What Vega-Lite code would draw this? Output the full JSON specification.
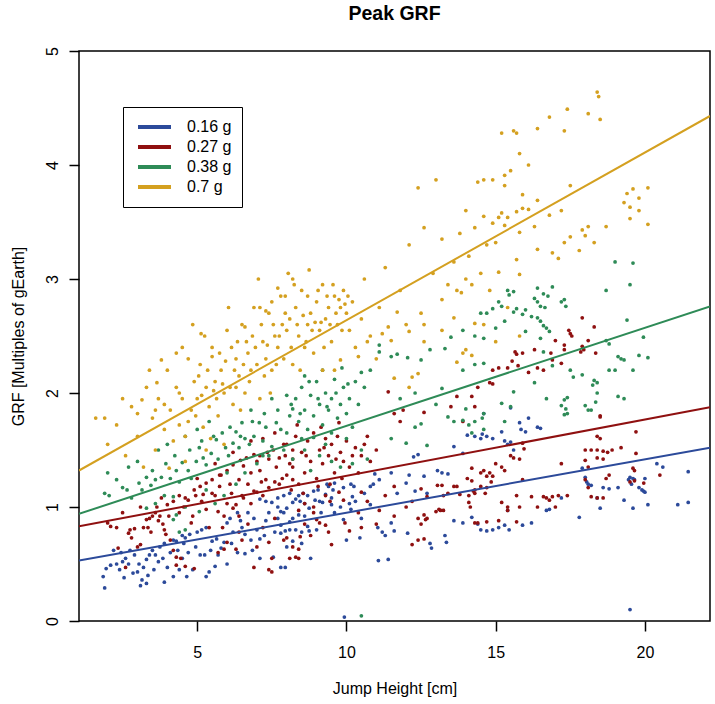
{
"$schema":"https://vega.github.io/schema/vega-lite/v6.json",
"width":631,"height":570,
"autosize":{"type":"none"},
"padding":{"left":79,"top":51,"right":5,"bottom":83},
"background":"white",
"title":{"text":"Peak GRF","fontSize":19.5,"fontWeight":"bold","font":"Liberation Sans","color":"black","offset":22},
"config":{"font":"Liberation Sans","view":{"stroke":"black","strokeWidth":1.5}},
"datasets":{
"lines":[
{"g":"0.16 g","x":1.04,"y":0.53},{"g":"0.16 g","x":22.18,"y":1.52},
{"g":"0.27 g","x":1.04,"y":0.83},{"g":"0.27 g","x":22.18,"y":1.875},
{"g":"0.38 g","x":1.04,"y":0.94},{"g":"0.38 g","x":22.18,"y":2.76},
{"g":"0.7 g","x":1.04,"y":1.32},{"g":"0.7 g","x":22.18,"y":4.43}],
"pts":[
{"g":"0.16 g","x":1.85,"y":0.39},{"g":"0.16 g","x":1.9,"y":0.29},{"g":"0.16 g","x":1.95,"y":0.46},{"g":"0.16 g","x":2.1,"y":0.49},{"g":"0.16 g","x":2.3,"y":0.5},{"g":"0.16 g","x":2.4,"y":0.45},{"g":"0.16 g","x":2.5,"y":0.52},{"g":"0.16 g","x":2.6,"y":0.55},{"g":"0.16 g","x":2.7,"y":0.5},{"g":"0.16 g","x":2.85,"y":0.42},{"g":"0.16 g","x":3.0,"y":0.43},{"g":"0.16 g","x":3.15,"y":0.36},{"g":"0.16 g","x":3.1,"y":0.31},{"g":"0.16 g","x":3.3,"y":0.33},{"g":"0.16 g","x":3.2,"y":0.47},{"g":"0.16 g","x":3.3,"y":0.54},{"g":"0.16 g","x":3.4,"y":0.58},{"g":"0.16 g","x":3.5,"y":0.62},{"g":"0.16 g","x":3.6,"y":0.58},{"g":"0.16 g","x":3.75,"y":0.65},{"g":"0.16 g","x":3.9,"y":0.68},{"g":"0.16 g","x":4.2,"y":0.71},{"g":"0.16 g","x":4.3,"y":0.7},{"g":"0.16 g","x":4.5,"y":0.75},{"g":"0.16 g","x":4.6,"y":0.73},{"g":"0.16 g","x":4.75,"y":0.76},{"g":"0.16 g","x":5.0,"y":0.78},{"g":"0.16 g","x":5.15,"y":0.8},{"g":"0.16 g","x":5.3,"y":0.82},{"g":"0.16 g","x":4.0,"y":0.47},{"g":"0.16 g","x":3.9,"y":0.34},{"g":"0.16 g","x":4.2,"y":0.39},{"g":"0.16 g","x":4.4,"y":0.45},{"g":"0.16 g","x":4.65,"y":0.39},{"g":"0.16 g","x":4.85,"y":0.45},{"g":"0.16 g","x":5.3,"y":0.39},{"g":"0.16 g","x":5.4,"y":0.43},{"g":"0.16 g","x":5.1,"y":0.58},{"g":"0.16 g","x":5.25,"y":0.58},{"g":"0.16 g","x":5.7,"y":0.58},{"g":"0.16 g","x":5.8,"y":0.64},{"g":"0.16 g","x":5.9,"y":0.69},{"g":"0.16 g","x":6.0,"y":0.86},{"g":"0.16 g","x":6.1,"y":0.9},{"g":"0.16 g","x":6.35,"y":0.95},{"g":"0.16 g","x":6.45,"y":0.88},{"g":"0.16 g","x":6.7,"y":0.95},{"g":"0.16 g","x":6.6,"y":0.76},{"g":"0.16 g","x":6.8,"y":0.71},{"g":"0.16 g","x":7.0,"y":0.8},{"g":"0.16 g","x":7.1,"y":0.72},{"g":"0.16 g","x":7.25,"y":0.75},{"g":"0.16 g","x":6.35,"y":0.6},{"g":"0.16 g","x":6.6,"y":0.59},{"g":"0.16 g","x":7.1,"y":0.55},{"g":"0.16 g","x":7.55,"y":0.56},{"g":"0.16 g","x":7.8,"y":0.47},{"g":"0.16 g","x":7.95,"y":0.47},{"g":"0.16 g","x":8.0,"y":0.65},{"g":"0.16 g","x":8.2,"y":0.7},{"g":"0.16 g","x":8.3,"y":0.8},{"g":"0.16 g","x":7.1,"y":1.07},{"g":"0.16 g","x":7.3,"y":1.05},{"g":"0.16 g","x":7.5,"y":1.04},{"g":"0.16 g","x":7.7,"y":1.08},{"g":"0.16 g","x":7.9,"y":1.1},{"g":"0.16 g","x":8.1,"y":1.12},{"g":"0.16 g","x":8.8,"y":0.55},{"g":"0.16 g","x":8.5,"y":0.68},{"g":"0.16 g","x":7.8,"y":0.77},{"g":"0.16 g","x":7.95,"y":0.79},{"g":"0.16 g","x":8.1,"y":0.8},{"g":"0.16 g","x":8.5,"y":0.78},{"g":"0.16 g","x":8.7,"y":0.83},{"g":"0.16 g","x":8.75,"y":0.79},{"g":"0.16 g","x":9.0,"y":0.8},{"g":"0.16 g","x":7.8,"y":0.84},{"g":"0.16 g","x":7.7,"y":0.9},{"g":"0.16 g","x":7.9,"y":0.95},{"g":"0.16 g","x":8.1,"y":0.87},{"g":"0.16 g","x":8.2,"y":0.9},{"g":"0.16 g","x":8.4,"y":0.93},{"g":"0.16 g","x":7.8,"y":0.96},{"g":"0.16 g","x":8.0,"y":0.99},{"g":"0.16 g","x":7.7,"y":1.0},{"g":"0.16 g","x":8.2,"y":1.04},{"g":"0.16 g","x":8.3,"y":1.07},{"g":"0.16 g","x":8.4,"y":1.1},{"g":"0.16 g","x":8.45,"y":1.05},{"g":"0.16 g","x":8.55,"y":1.12},{"g":"0.16 g","x":8.6,"y":1.03},{"g":"0.16 g","x":8.7,"y":1.1},{"g":"0.16 g","x":8.75,"y":0.99},{"g":"0.16 g","x":8.95,"y":1.06},{"g":"0.16 g","x":9.1,"y":1.05},{"g":"0.16 g","x":8.9,"y":1.14},{"g":"0.16 g","x":9.05,"y":1.15},{"g":"0.16 g","x":9.3,"y":1.11},{"g":"0.16 g","x":9.5,"y":1.08},{"g":"0.16 g","x":9.2,"y":1.04},{"g":"0.16 g","x":9.35,"y":1.2},{"g":"0.16 g","x":9.55,"y":1.15},{"g":"0.16 g","x":9.4,"y":1.18},{"g":"0.16 g","x":9.9,"y":1.17},{"g":"0.16 g","x":9.6,"y":1.21},{"g":"0.16 g","x":10.15,"y":1.2},{"g":"0.16 g","x":10.25,"y":1.18},{"g":"0.16 g","x":10.8,"y":1.18},{"g":"0.16 g","x":10.9,"y":1.2},{"g":"0.16 g","x":10.95,"y":1.29},{"g":"0.16 g","x":10.2,"y":1.09},{"g":"0.16 g","x":9.5,"y":1.02},{"g":"0.16 g","x":10.1,"y":1.03},{"g":"0.16 g","x":10.15,"y":0.98},{"g":"0.16 g","x":9.8,"y":1.0},{"g":"0.16 g","x":10.5,"y":0.9},{"g":"0.16 g","x":9.9,"y":0.89},{"g":"0.16 g","x":10.0,"y":0.71},{"g":"0.16 g","x":10.45,"y":0.73},{"g":"0.16 g","x":10.8,"y":1.02},{"g":"0.16 g","x":11.07,"y":0.53},{"g":"0.16 g","x":11.4,"y":0.54},{"g":"0.16 g","x":11.3,"y":0.75},{"g":"0.16 g","x":11.6,"y":0.79},{"g":"0.16 g","x":11.5,"y":0.86},{"g":"0.16 g","x":12.05,"y":0.77},{"g":"0.16 g","x":12.0,"y":1.21},{"g":"0.16 g","x":12.1,"y":1.28},{"g":"0.16 g","x":12.6,"y":1.27},{"g":"0.16 g","x":12.8,"y":0.68},{"g":"0.16 g","x":12.85,"y":0.64},{"g":"0.16 g","x":13.3,"y":0.75},{"g":"0.16 g","x":13.35,"y":0.69},{"g":"0.16 g","x":13.6,"y":0.88},{"g":"0.16 g","x":14.2,"y":0.91},{"g":"0.16 g","x":14.4,"y":0.85},{"g":"0.16 g","x":14.7,"y":0.79},{"g":"0.16 g","x":14.9,"y":0.8},{"g":"0.16 g","x":15.1,"y":0.82},{"g":"0.16 g","x":9.93,"y":0.035},{"g":"0.16 g","x":11.1,"y":1.24},{"g":"0.16 g","x":11.5,"y":1.3},{"g":"0.16 g","x":12.25,"y":1.44},{"g":"0.16 g","x":12.4,"y":1.46},{"g":"0.16 g","x":13.05,"y":1.32},{"g":"0.16 g","x":13.2,"y":1.3},{"g":"0.16 g","x":13.4,"y":1.29},{"g":"0.16 g","x":13.6,"y":1.53},{"g":"0.16 g","x":13.9,"y":1.47},{"g":"0.16 g","x":14.05,"y":1.63},{"g":"0.16 g","x":14.3,"y":1.62},{"g":"0.16 g","x":14.5,"y":1.6},{"g":"0.16 g","x":14.9,"y":1.6},{"g":"0.16 g","x":15.2,"y":1.66},{"g":"0.16 g","x":15.3,"y":1.58},{"g":"0.16 g","x":12.7,"y":1.12},{"g":"0.16 g","x":12.3,"y":1.14},{"g":"0.16 g","x":11.7,"y":1.12},{"g":"0.16 g","x":11.05,"y":0.82},{"g":"0.16 g","x":11.2,"y":0.78},{"g":"0.16 g","x":13.9,"y":0.86},{"g":"0.16 g","x":14.5,"y":0.8},{"g":"0.16 g","x":15.4,"y":0.97},{"g":"0.16 g","x":15.3,"y":0.84},{"g":"0.16 g","x":15.45,"y":0.8},{"g":"0.16 g","x":15.9,"y":0.84},{"g":"0.16 g","x":16.2,"y":0.86},{"g":"0.16 g","x":15.5,"y":1.57},{"g":"0.16 g","x":15.4,"y":1.55},{"g":"0.16 g","x":15.8,"y":1.74},{"g":"0.16 g","x":15.85,"y":1.68},{"g":"0.16 g","x":16.1,"y":1.78},{"g":"0.16 g","x":16.4,"y":1.7},{"g":"0.16 g","x":16.5,"y":1.69},{"g":"0.16 g","x":15.5,"y":1.87},{"g":"0.16 g","x":14.6,"y":1.82},{"g":"0.16 g","x":14.55,"y":1.64},{"g":"0.16 g","x":14.7,"y":1.62},{"g":"0.16 g","x":16.0,"y":1.66},{"g":"0.16 g","x":15.6,"y":1.5},{"g":"0.16 g","x":16.7,"y":0.97},{"g":"0.16 g","x":16.8,"y":0.98},{"g":"0.16 g","x":17.2,"y":1.08},{"g":"0.16 g","x":17.8,"y":0.91},{"g":"0.16 g","x":18.0,"y":1.26},{"g":"0.16 g","x":18.05,"y":1.22},{"g":"0.16 g","x":18.1,"y":1.2},{"g":"0.16 g","x":18.2,"y":1.19},{"g":"0.16 g","x":18.4,"y":1.08},{"g":"0.16 g","x":18.5,"y":0.99},{"g":"0.16 g","x":18.6,"y":1.17},{"g":"0.16 g","x":18.8,"y":1.16},{"g":"0.16 g","x":19.1,"y":1.17},{"g":"0.16 g","x":19.3,"y":1.06},{"g":"0.16 g","x":19.6,"y":0.99},{"g":"0.16 g","x":19.5,"y":1.26},{"g":"0.16 g","x":19.45,"y":1.24},{"g":"0.16 g","x":19.6,"y":1.25},{"g":"0.16 g","x":19.65,"y":1.24},{"g":"0.16 g","x":19.55,"y":1.2},{"g":"0.16 g","x":19.8,"y":1.17},{"g":"0.16 g","x":19.9,"y":1.15},{"g":"0.16 g","x":19.95,"y":1.14},{"g":"0.16 g","x":20.0,"y":1.13},{"g":"0.16 g","x":20.1,"y":1.02},{"g":"0.16 g","x":20.0,"y":1.25},{"g":"0.16 g","x":20.4,"y":1.38},{"g":"0.16 g","x":20.6,"y":1.35},{"g":"0.16 g","x":21.1,"y":1.02},{"g":"0.16 g","x":21.45,"y":1.04},{"g":"0.16 g","x":21.45,"y":1.31},{"g":"0.16 g","x":19.5,"y":0.1},{"g":"0.16 g","x":17.9,"y":1.34},{"g":"0.16 g","x":2.2,"y":0.62},{"g":"0.16 g","x":2.9,"y":0.58},{"g":"0.16 g","x":3.55,"y":0.45},{"g":"0.16 g","x":4.1,"y":0.6},{"g":"0.16 g","x":4.7,"y":0.6},{"g":"0.16 g","x":5.5,"y":0.7},{"g":"0.16 g","x":6.2,"y":0.78},{"g":"0.16 g","x":6.9,"y":0.9},{"g":"0.16 g","x":7.4,"y":0.95},{"g":"0.16 g","x":6.0,"y":0.5},{"g":"0.16 g","x":5.6,"y":0.48},{"g":"0.16 g","x":4.5,"y":0.55},{"g":"0.16 g","x":3.7,"y":0.52},{"g":"0.16 g","x":2.55,"y":0.38},{"g":"0.16 g","x":2.45,"y":0.6},{"g":"0.16 g","x":2.75,"y":0.62},{"g":"0.16 g","x":3.05,"y":0.5},{"g":"0.16 g","x":3.35,"y":0.4},{"g":"0.16 g","x":3.85,"y":0.55},{"g":"0.16 g","x":4.35,"y":0.62},{"g":"0.16 g","x":4.55,"y":0.68},{"g":"0.16 g","x":4.95,"y":0.65},{"g":"0.16 g","x":5.45,"y":0.62},{"g":"0.16 g","x":5.65,"y":0.72},{"g":"0.16 g","x":6.15,"y":0.68},{"g":"0.16 g","x":6.5,"y":0.82},{"g":"0.16 g","x":6.85,"y":0.62},{"g":"0.16 g","x":7.3,"y":0.88},{"g":"0.16 g","x":7.6,"y":0.78},{"g":"0.16 g","x":8.6,"y":0.92},{"g":"0.16 g","x":9.15,"y":0.95},{"g":"0.16 g","x":9.6,"y":0.95},{"g":"0.16 g","x":10.3,"y":1.05},{"g":"0.16 g","x":10.6,"y":1.12},
{"g":"0.27 g","x":2.0,"y":0.86},{"g":"0.27 g","x":2.1,"y":0.83},{"g":"0.27 g","x":2.3,"y":0.82},{"g":"0.27 g","x":2.35,"y":0.64},{"g":"0.27 g","x":2.6,"y":0.47},{"g":"0.27 g","x":2.7,"y":0.77},{"g":"0.27 g","x":2.8,"y":0.73},{"g":"0.27 g","x":2.75,"y":0.8},{"g":"0.27 g","x":2.9,"y":0.81},{"g":"0.27 g","x":3.0,"y":0.65},{"g":"0.27 g","x":3.1,"y":0.67},{"g":"0.27 g","x":3.2,"y":0.82},{"g":"0.27 g","x":3.3,"y":0.89},{"g":"0.27 g","x":3.35,"y":0.82},{"g":"0.27 g","x":3.4,"y":0.9},{"g":"0.27 g","x":3.5,"y":0.92},{"g":"0.27 g","x":3.6,"y":0.95},{"g":"0.27 g","x":3.65,"y":1.0},{"g":"0.27 g","x":3.75,"y":0.92},{"g":"0.27 g","x":3.85,"y":0.85},{"g":"0.27 g","x":3.9,"y":0.8},{"g":"0.27 g","x":3.95,"y":0.76},{"g":"0.27 g","x":4.1,"y":0.71},{"g":"0.27 g","x":4.2,"y":0.62},{"g":"0.27 g","x":4.3,"y":0.56},{"g":"0.27 g","x":4.45,"y":0.55},{"g":"0.27 g","x":4.3,"y":0.49},{"g":"0.27 g","x":4.6,"y":0.48},{"g":"0.27 g","x":4.9,"y":0.46},{"g":"0.27 g","x":4.0,"y":1.02},{"g":"0.27 g","x":4.2,"y":1.05},{"g":"0.27 g","x":4.4,"y":1.1},{"g":"0.27 g","x":4.6,"y":1.08},{"g":"0.27 g","x":4.9,"y":1.15},{"g":"0.27 g","x":5.1,"y":1.18},{"g":"0.27 g","x":5.3,"y":1.21},{"g":"0.27 g","x":5.2,"y":1.11},{"g":"0.27 g","x":5.5,"y":1.24},{"g":"0.27 g","x":5.8,"y":1.28},{"g":"0.27 g","x":6.0,"y":1.32},{"g":"0.27 g","x":6.2,"y":1.37},{"g":"0.27 g","x":6.45,"y":1.41},{"g":"0.27 g","x":6.65,"y":1.43},{"g":"0.27 g","x":6.9,"y":1.46},{"g":"0.27 g","x":7.1,"y":1.45},{"g":"0.27 g","x":7.35,"y":1.48},{"g":"0.27 g","x":7.55,"y":1.5},{"g":"0.27 g","x":7.75,"y":1.43},{"g":"0.27 g","x":7.95,"y":1.45},{"g":"0.27 g","x":8.2,"y":1.42},{"g":"0.27 g","x":5.7,"y":0.6},{"g":"0.27 g","x":5.9,"y":0.63},{"g":"0.27 g","x":6.0,"y":0.69},{"g":"0.27 g","x":6.3,"y":0.63},{"g":"0.27 g","x":6.5,"y":0.71},{"g":"0.27 g","x":6.9,"y":0.47},{"g":"0.27 g","x":7.4,"y":0.45},{"g":"0.27 g","x":7.5,"y":0.55},{"g":"0.27 g","x":7.9,"y":0.71},{"g":"0.27 g","x":8.2,"y":0.65},{"g":"0.27 g","x":8.3,"y":0.56},{"g":"0.27 g","x":7.0,"y":0.65},{"g":"0.27 g","x":7.4,"y":0.69},{"g":"0.27 g","x":5.7,"y":0.96},{"g":"0.27 g","x":5.9,"y":0.92},{"g":"0.27 g","x":6.2,"y":0.99},{"g":"0.27 g","x":6.4,"y":0.92},{"g":"0.27 g","x":6.55,"y":1.08},{"g":"0.27 g","x":6.8,"y":1.03},{"g":"0.27 g","x":7.0,"y":1.13},{"g":"0.27 g","x":7.2,"y":1.1},{"g":"0.27 g","x":7.4,"y":1.17},{"g":"0.27 g","x":7.6,"y":1.22},{"g":"0.27 g","x":7.85,"y":1.25},{"g":"0.27 g","x":8.0,"y":1.28},{"g":"0.27 g","x":5.3,"y":0.98},{"g":"0.27 g","x":4.85,"y":0.92},{"g":"0.27 g","x":4.8,"y":0.86},{"g":"0.27 g","x":8.0,"y":1.55},{"g":"0.27 g","x":8.2,"y":1.35},{"g":"0.27 g","x":8.3,"y":1.62},{"g":"0.27 g","x":8.4,"y":1.2},{"g":"0.27 g","x":8.5,"y":1.48},{"g":"0.27 g","x":8.6,"y":1.3},{"g":"0.27 g","x":8.7,"y":1.58},{"g":"0.27 g","x":8.8,"y":1.4},{"g":"0.27 g","x":8.9,"y":1.65},{"g":"0.27 g","x":9.0,"y":1.25},{"g":"0.27 g","x":9.1,"y":1.5},{"g":"0.27 g","x":9.2,"y":1.38},{"g":"0.27 g","x":9.3,"y":1.6},{"g":"0.27 g","x":9.4,"y":1.45},{"g":"0.27 g","x":9.5,"y":1.55},{"g":"0.27 g","x":9.6,"y":1.3},{"g":"0.27 g","x":9.7,"y":1.62},{"g":"0.27 g","x":9.8,"y":1.48},{"g":"0.27 g","x":9.9,"y":1.4},{"g":"0.27 g","x":10.0,"y":1.58},{"g":"0.27 g","x":10.1,"y":1.35},{"g":"0.27 g","x":10.3,"y":1.52},{"g":"0.27 g","x":10.5,"y":1.45},{"g":"0.27 g","x":10.7,"y":1.62},{"g":"0.27 g","x":8.15,"y":1.15},{"g":"0.27 g","x":8.55,"y":1.12},{"g":"0.27 g","x":9.05,"y":1.18},{"g":"0.27 g","x":9.45,"y":1.2},{"g":"0.27 g","x":9.85,"y":1.25},{"g":"0.27 g","x":10.4,"y":1.3},{"g":"0.27 g","x":10.8,"y":1.4},{"g":"0.27 g","x":11.0,"y":1.5},{"g":"0.27 g","x":8.35,"y":1.72},{"g":"0.27 g","x":9.15,"y":1.7},{"g":"0.27 g","x":9.75,"y":1.74},{"g":"0.27 g","x":11.4,"y":2.01},{"g":"0.27 g","x":11.9,"y":1.85},{"g":"0.27 g","x":11.6,"y":1.82},{"g":"0.27 g","x":11.8,"y":1.75},{"g":"0.27 g","x":12.6,"y":1.83},{"g":"0.27 g","x":13.5,"y":1.88},{"g":"0.27 g","x":13.7,"y":1.97},{"g":"0.27 g","x":14.2,"y":1.97},{"g":"0.27 g","x":15.1,"y":2.22},{"g":"0.27 g","x":14.8,"y":2.09},{"g":"0.27 g","x":14.4,"y":2.05},{"g":"0.27 g","x":14.3,"y":1.88},{"g":"0.27 g","x":13.9,"y":1.75},{"g":"0.27 g","x":14.2,"y":1.34},{"g":"0.27 g","x":14.5,"y":1.3},{"g":"0.27 g","x":14.6,"y":1.32},{"g":"0.27 g","x":14.8,"y":1.3},{"g":"0.27 g","x":15.0,"y":1.38},{"g":"0.27 g","x":14.85,"y":1.22},{"g":"0.27 g","x":14.5,"y":1.18},{"g":"0.27 g","x":14.3,"y":1.12},{"g":"0.27 g","x":14.1,"y":1.1},{"g":"0.27 g","x":13.8,"y":1.11},{"g":"0.27 g","x":13.7,"y":1.18},{"g":"0.27 g","x":13.05,"y":1.19},{"g":"0.27 g","x":13.15,"y":0.97},{"g":"0.27 g","x":13.0,"y":0.96},{"g":"0.27 g","x":12.7,"y":0.9},{"g":"0.27 g","x":12.4,"y":0.9},{"g":"0.27 g","x":12.5,"y":0.85},{"g":"0.27 g","x":12.0,"y":1.0},{"g":"0.27 g","x":12.2,"y":1.05},{"g":"0.27 g","x":11.6,"y":1.18},{"g":"0.27 g","x":11.3,"y":1.1},{"g":"0.27 g","x":11.1,"y":0.97},{"g":"0.27 g","x":10.7,"y":1.05},{"g":"0.27 g","x":10.5,"y":1.13},{"g":"0.27 g","x":10.4,"y":0.95},{"g":"0.27 g","x":9.9,"y":1.06},{"g":"0.27 g","x":9.75,"y":1.13},{"g":"0.27 g","x":9.3,"y":1.1},{"g":"0.27 g","x":9.45,"y":1.05},{"g":"0.27 g","x":9.0,"y":0.89},{"g":"0.27 g","x":8.9,"y":1.0},{"g":"0.27 g","x":8.6,"y":1.03},{"g":"0.27 g","x":8.4,"y":0.97},{"g":"0.27 g","x":8.4,"y":0.55},{"g":"0.27 g","x":8.1,"y":0.55},{"g":"0.27 g","x":7.5,"y":0.43},{"g":"0.27 g","x":9.5,"y":0.67},{"g":"0.27 g","x":8.0,"y":0.73},{"g":"0.27 g","x":8.4,"y":0.63},{"g":"0.27 g","x":8.45,"y":0.74},{"g":"0.27 g","x":9.3,"y":0.84},{"g":"0.27 g","x":9.4,"y":0.78},{"g":"0.27 g","x":9.1,"y":0.86},{"g":"0.27 g","x":8.9,"y":0.95},{"g":"0.27 g","x":10.5,"y":0.82},{"g":"0.27 g","x":10.1,"y":0.79},{"g":"0.27 g","x":9.95,"y":0.86},{"g":"0.27 g","x":11.0,"y":0.85},{"g":"0.27 g","x":11.6,"y":0.92},{"g":"0.27 g","x":12.6,"y":0.93},{"g":"0.27 g","x":12.65,"y":0.89},{"g":"0.27 g","x":12.2,"y":0.67},{"g":"0.27 g","x":12.4,"y":0.71},{"g":"0.27 g","x":12.6,"y":0.72},{"g":"0.27 g","x":13.1,"y":0.98},{"g":"0.27 g","x":13.25,"y":0.97},{"g":"0.27 g","x":13.25,"y":1.1},{"g":"0.27 g","x":13.2,"y":1.19},{"g":"0.27 g","x":12.7,"y":1.09},{"g":"0.27 g","x":13.6,"y":1.18},{"g":"0.27 g","x":14.1,"y":1.04},{"g":"0.27 g","x":14.15,"y":1.0},{"g":"0.27 g","x":14.25,"y":1.14},{"g":"0.27 g","x":14.05,"y":1.25},{"g":"0.27 g","x":14.7,"y":1.17},{"g":"0.27 g","x":14.9,"y":1.27},{"g":"0.27 g","x":14.7,"y":0.87},{"g":"0.27 g","x":15.1,"y":0.88},{"g":"0.27 g","x":12.5,"y":1.16},{"g":"0.27 g","x":13.4,"y":1.12},{"g":"0.27 g","x":18.5,"y":1.8},{"g":"0.27 g","x":18.4,"y":1.62},{"g":"0.27 g","x":18.5,"y":1.6},{"g":"0.27 g","x":18.0,"y":1.5},{"g":"0.27 g","x":18.2,"y":1.5},{"g":"0.27 g","x":18.4,"y":1.5},{"g":"0.27 g","x":18.6,"y":1.49},{"g":"0.27 g","x":18.75,"y":1.48},{"g":"0.27 g","x":18.9,"y":1.5},{"g":"0.27 g","x":19.2,"y":1.52},{"g":"0.27 g","x":19.7,"y":1.66},{"g":"0.27 g","x":19.7,"y":1.47},{"g":"0.27 g","x":18.4,"y":1.43},{"g":"0.27 g","x":18.6,"y":1.42},{"g":"0.27 g","x":18.0,"y":1.41},{"g":"0.27 g","x":17.2,"y":1.38},{"g":"0.27 g","x":18.1,"y":1.35},{"g":"0.27 g","x":18.8,"y":1.28},{"g":"0.27 g","x":18.7,"y":1.25},{"g":"0.27 g","x":18.0,"y":1.24},{"g":"0.27 g","x":18.1,"y":1.17},{"g":"0.27 g","x":18.2,"y":1.09},{"g":"0.27 g","x":18.4,"y":1.08},{"g":"0.27 g","x":18.6,"y":1.08},{"g":"0.27 g","x":19.6,"y":1.34},{"g":"0.27 g","x":19.65,"y":1.32},{"g":"0.27 g","x":19.5,"y":1.22},{"g":"0.27 g","x":19.65,"y":1.23},{"g":"0.27 g","x":19.96,"y":1.21},{"g":"0.27 g","x":20.5,"y":1.28},{"g":"0.27 g","x":15.2,"y":1.35},{"g":"0.27 g","x":15.3,"y":1.32},{"g":"0.27 g","x":15.6,"y":1.43},{"g":"0.27 g","x":15.8,"y":1.42},{"g":"0.27 g","x":15.9,"y":1.56},{"g":"0.27 g","x":15.95,"y":1.51},{"g":"0.27 g","x":15.5,"y":1.45},{"g":"0.27 g","x":14.7,"y":1.27},{"g":"0.27 g","x":14.2,"y":1.23},{"g":"0.27 g","x":14.3,"y":1.15},{"g":"0.27 g","x":14.65,"y":1.12},{"g":"0.27 g","x":15.2,"y":1.04},{"g":"0.27 g","x":15.4,"y":1.0},{"g":"0.27 g","x":15.7,"y":1.1},{"g":"0.27 g","x":15.9,"y":1.24},{"g":"0.27 g","x":16.2,"y":1.09},{"g":"0.27 g","x":16.4,"y":1.0},{"g":"0.27 g","x":16.6,"y":1.09},{"g":"0.27 g","x":16.7,"y":1.08},{"g":"0.27 g","x":16.8,"y":1.06},{"g":"0.27 g","x":16.9,"y":1.09},{"g":"0.27 g","x":17.1,"y":1.1},{"g":"0.27 g","x":17.4,"y":1.1},{"g":"0.27 g","x":17.0,"y":1.0},{"g":"0.27 g","x":15.8,"y":1.0},{"g":"0.27 g","x":15.7,"y":0.87},{"g":"0.27 g","x":15.4,"y":0.97},{"g":"0.27 g","x":14.3,"y":0.86},{"g":"0.27 g","x":14.4,"y":0.86},{"g":"0.27 g","x":14.9,"y":2.08},{"g":"0.27 g","x":17.9,"y":2.66},{"g":"0.27 g","x":17.45,"y":2.55},{"g":"0.27 g","x":17.5,"y":2.52},{"g":"0.27 g","x":17.55,"y":2.5},{"g":"0.27 g","x":17.0,"y":2.46},{"g":"0.27 g","x":17.3,"y":2.42},{"g":"0.27 g","x":17.3,"y":2.38},{"g":"0.27 g","x":18.1,"y":2.46},{"g":"0.27 g","x":18.3,"y":2.58},{"g":"0.27 g","x":17.9,"y":2.41},{"g":"0.27 g","x":17.95,"y":2.38},{"g":"0.27 g","x":17.85,"y":2.36},{"g":"0.27 g","x":18.35,"y":2.35},{"g":"0.27 g","x":16.3,"y":2.38},{"g":"0.27 g","x":15.9,"y":2.35},{"g":"0.27 g","x":15.7,"y":2.34},{"g":"0.27 g","x":15.65,"y":2.36},{"g":"0.27 g","x":16.85,"y":2.35},{"g":"0.27 g","x":17.2,"y":2.26},{"g":"0.27 g","x":16.9,"y":2.29},{"g":"0.27 g","x":16.4,"y":2.22},{"g":"0.27 g","x":16.1,"y":2.18},{"g":"0.27 g","x":15.75,"y":2.24},{"g":"0.27 g","x":15.55,"y":2.28},{"g":"0.27 g","x":15.4,"y":2.22},{"g":"0.27 g","x":14.9,"y":2.2},{"g":"0.27 g","x":16.6,"y":2.2},{"g":"0.27 g","x":18.5,"y":1.79},{"g":"0.27 g","x":7.1,"y":1.32},{"g":"0.27 g","x":6.8,"y":1.3},{"g":"0.27 g","x":6.4,"y":1.24},{"g":"0.27 g","x":6.1,"y":1.2},{"g":"0.27 g","x":5.75,"y":1.18},{"g":"0.27 g","x":5.5,"y":1.12},{"g":"0.27 g","x":4.95,"y":1.1},{"g":"0.27 g","x":4.7,"y":1.06},{"g":"0.27 g","x":5.75,"y":1.28},{"g":"0.27 g","x":6.55,"y":1.36},{"g":"0.27 g","x":7.0,"y":1.4},{"g":"0.27 g","x":7.4,"y":1.42},{"g":"0.27 g","x":7.9,"y":1.55},{"g":"0.27 g","x":8.2,"y":1.5},{"g":"0.27 g","x":7.3,"y":1.24},{"g":"0.27 g","x":7.75,"y":1.2},{"g":"0.27 g","x":8.2,"y":1.24},{"g":"0.27 g","x":6.5,"y":1.1},{"g":"0.27 g","x":6.9,"y":1.14},{"g":"0.27 g","x":6.0,"y":1.03},{"g":"0.27 g","x":6.3,"y":1.02},{"g":"0.27 g","x":7.2,"y":1.6},{"g":"0.27 g","x":7.6,"y":1.65},{"g":"0.27 g","x":6.8,"y":1.58},{"g":"0.27 g","x":3.1,"y":1.0},{"g":"0.27 g","x":3.8,"y":1.08},{"g":"0.27 g","x":4.4,"y":0.95},{"g":"0.27 g","x":5.0,"y":1.25},{"g":"0.27 g","x":5.6,"y":1.38},{"g":"0.27 g","x":6.2,"y":1.48},{"g":"0.27 g","x":5.4,"y":0.82},{"g":"0.27 g","x":6.7,"y":0.85},{"g":"0.27 g","x":7.6,"y":0.9},{"g":"0.27 g","x":8.8,"y":0.75},{"g":"0.27 g","x":2.5,"y":0.95},{"g":"0.27 g","x":3.45,"y":0.78},{"g":"0.27 g","x":3.7,"y":0.88},{"g":"0.27 g","x":4.05,"y":0.92},{"g":"0.27 g","x":4.55,"y":1.0},{"g":"0.27 g","x":5.15,"y":1.05},{"g":"0.27 g","x":5.6,"y":1.1},{"g":"0.27 g","x":6.15,"y":1.12},{"g":"0.27 g","x":6.7,"y":1.2},{"g":"0.27 g","x":7.15,"y":1.22},{"g":"0.27 g","x":7.65,"y":1.35},{"g":"0.27 g","x":8.1,"y":1.38},{"g":"0.27 g","x":8.65,"y":1.45},{"g":"0.27 g","x":9.25,"y":1.52},{"g":"0.27 g","x":9.65,"y":1.42},{"g":"0.27 g","x":10.2,"y":1.45},{"g":"0.27 g","x":10.6,"y":1.55},{"g":"0.27 g","x":5.85,"y":0.82},{"g":"0.27 g","x":6.4,"y":0.78},{"g":"0.27 g","x":7.2,"y":0.82},{"g":"0.27 g","x":8.6,"y":0.85},
{"g":"0.38 g","x":2.05,"y":1.1},{"g":"0.38 g","x":2.3,"y":1.24},{"g":"0.38 g","x":2.5,"y":1.17},{"g":"0.38 g","x":2.65,"y":1.15},{"g":"0.38 g","x":2.8,"y":1.08},{"g":"0.38 g","x":3.05,"y":1.21},{"g":"0.38 g","x":3.3,"y":1.26},{"g":"0.38 g","x":3.45,"y":1.19},{"g":"0.38 g","x":3.6,"y":1.24},{"g":"0.38 g","x":3.8,"y":1.26},{"g":"0.38 g","x":4.1,"y":1.25},{"g":"0.38 g","x":4.3,"y":1.32},{"g":"0.38 g","x":4.4,"y":1.22},{"g":"0.38 g","x":4.5,"y":1.39},{"g":"0.38 g","x":4.7,"y":1.32},{"g":"0.38 g","x":4.8,"y":1.25},{"g":"0.38 g","x":4.97,"y":1.4},{"g":"0.38 g","x":5.07,"y":1.52},{"g":"0.38 g","x":5.2,"y":1.43},{"g":"0.38 g","x":5.3,"y":1.37},{"g":"0.38 g","x":5.47,"y":1.47},{"g":"0.38 g","x":5.64,"y":1.59},{"g":"0.38 g","x":5.7,"y":1.42},{"g":"0.38 g","x":5.84,"y":1.65},{"g":"0.38 g","x":5.95,"y":1.52},{"g":"0.38 g","x":6.05,"y":1.45},{"g":"0.38 g","x":6.2,"y":1.56},{"g":"0.38 g","x":6.3,"y":1.66},{"g":"0.38 g","x":6.4,"y":1.52},{"g":"0.38 g","x":6.5,"y":1.74},{"g":"0.38 g","x":6.6,"y":1.6},{"g":"0.38 g","x":6.75,"y":1.55},{"g":"0.38 g","x":6.9,"y":1.62},{"g":"0.38 g","x":7.08,"y":1.74},{"g":"0.38 g","x":7.2,"y":1.58},{"g":"0.38 g","x":7.3,"y":1.7},{"g":"0.38 g","x":7.5,"y":1.53},{"g":"0.38 g","x":7.65,"y":1.74},{"g":"0.38 g","x":7.8,"y":1.68},{"g":"0.38 g","x":8.0,"y":1.65},{"g":"0.38 g","x":8.1,"y":1.8},{"g":"0.38 g","x":8.2,"y":1.86},{"g":"0.38 g","x":8.0,"y":1.98},{"g":"0.38 g","x":3.9,"y":1.1},{"g":"0.38 g","x":3.6,"y":1.03},{"g":"0.38 g","x":3.3,"y":0.99},{"g":"0.38 g","x":4.2,"y":1.09},{"g":"0.38 g","x":4.6,"y":1.0},{"g":"0.38 g","x":5.07,"y":0.96},{"g":"0.38 g","x":5.6,"y":1.03},{"g":"0.38 g","x":4.2,"y":0.89},{"g":"0.38 g","x":4.4,"y":0.78},{"g":"0.38 g","x":4.6,"y":0.8},{"g":"0.38 g","x":4.3,"y":0.93},{"g":"0.38 g","x":5.9,"y":1.1},{"g":"0.38 g","x":6.3,"y":1.2},{"g":"0.38 g","x":6.6,"y":1.3},{"g":"0.38 g","x":7.0,"y":1.38},{"g":"0.38 g","x":7.4,"y":1.45},{"g":"0.38 g","x":7.9,"y":1.5},{"g":"0.38 g","x":2.0,"y":1.3},{"g":"0.38 g","x":1.9,"y":1.12},{"g":"0.38 g","x":3.0,"y":1.4},{"g":"0.38 g","x":3.7,"y":1.5},{"g":"0.38 g","x":4.0,"y":1.55},{"g":"0.38 g","x":4.6,"y":1.62},{"g":"0.38 g","x":5.4,"y":1.75},{"g":"0.38 g","x":5.0,"y":1.68},{"g":"0.38 g","x":8.3,"y":1.95},{"g":"0.38 g","x":8.4,"y":1.75},{"g":"0.38 g","x":8.5,"y":2.05},{"g":"0.38 g","x":8.6,"y":1.85},{"g":"0.38 g","x":8.7,"y":1.68},{"g":"0.38 g","x":8.8,"y":1.98},{"g":"0.38 g","x":8.9,"y":1.8},{"g":"0.38 g","x":9.0,"y":2.1},{"g":"0.38 g","x":9.1,"y":1.9},{"g":"0.38 g","x":9.2,"y":1.72},{"g":"0.38 g","x":9.3,"y":2.0},{"g":"0.38 g","x":9.4,"y":1.85},{"g":"0.38 g","x":9.5,"y":1.95},{"g":"0.38 g","x":9.6,"y":2.12},{"g":"0.38 g","x":9.7,"y":1.78},{"g":"0.38 g","x":9.8,"y":1.9},{"g":"0.38 g","x":9.9,"y":2.05},{"g":"0.38 g","x":10.0,"y":1.82},{"g":"0.38 g","x":10.1,"y":1.95},{"g":"0.38 g","x":10.2,"y":1.7},{"g":"0.38 g","x":10.3,"y":2.1},{"g":"0.38 g","x":10.5,"y":2.18},{"g":"0.38 g","x":10.8,"y":2.2},{"g":"0.38 g","x":9.2,"y":2.2},{"g":"0.38 g","x":8.9,"y":1.61},{"g":"0.38 g","x":9.5,"y":1.65},{"g":"0.38 g","x":10.4,"y":1.9},{"g":"0.38 g","x":8.6,"y":2.15},{"g":"0.38 g","x":9.85,"y":2.22},{"g":"0.38 g","x":9.1,"y":1.45},{"g":"0.38 g","x":9.5,"y":1.4},{"g":"0.38 g","x":9.8,"y":1.35},{"g":"0.38 g","x":10.2,"y":1.38},{"g":"0.38 g","x":10.5,"y":1.5},{"g":"0.38 g","x":10.7,"y":1.42},{"g":"0.38 g","x":8.6,"y":1.5},{"g":"0.38 g","x":8.2,"y":1.42},{"g":"0.38 g","x":8.8,"y":1.32},{"g":"0.38 g","x":14.5,"y":2.7},{"g":"0.38 g","x":14.9,"y":2.74},{"g":"0.38 g","x":15.1,"y":2.8},{"g":"0.38 g","x":13.9,"y":2.55},{"g":"0.38 g","x":14.3,"y":2.5},{"g":"0.38 g","x":13.5,"y":2.49},{"g":"0.38 g","x":13.3,"y":2.39},{"g":"0.38 g","x":12.8,"y":2.38},{"g":"0.38 g","x":12.5,"y":2.29},{"g":"0.38 g","x":12.05,"y":2.31},{"g":"0.38 g","x":11.7,"y":2.34},{"g":"0.38 g","x":11.5,"y":2.32},{"g":"0.38 g","x":11.1,"y":2.36},{"g":"0.38 g","x":11.1,"y":2.42},{"g":"0.38 g","x":13.9,"y":2.2},{"g":"0.38 g","x":14.3,"y":2.25},{"g":"0.38 g","x":13.2,"y":2.04},{"g":"0.38 g","x":13.0,"y":1.9},{"g":"0.38 g","x":13.4,"y":1.79},{"g":"0.38 g","x":13.6,"y":1.75},{"g":"0.38 g","x":13.9,"y":1.76},{"g":"0.38 g","x":14.1,"y":1.72},{"g":"0.38 g","x":14.0,"y":1.86},{"g":"0.38 g","x":14.3,"y":1.75},{"g":"0.38 g","x":14.2,"y":1.65},{"g":"0.38 g","x":14.6,"y":1.68},{"g":"0.38 g","x":14.55,"y":1.78},{"g":"0.38 g","x":12.3,"y":1.7},{"g":"0.38 g","x":12.5,"y":1.73},{"g":"0.38 g","x":12.7,"y":1.54},{"g":"0.38 g","x":12.0,"y":1.56},{"g":"0.38 g","x":15.2,"y":1.91},{"g":"0.38 g","x":15.5,"y":1.88},{"g":"0.38 g","x":11.5,"y":1.6},{"g":"0.38 g","x":11.8,"y":1.95},{"g":"0.38 g","x":12.3,"y":2.0},{"g":"0.38 g","x":19.0,"y":3.15},{"g":"0.38 g","x":19.6,"y":3.14},{"g":"0.38 g","x":19.5,"y":2.95},{"g":"0.38 g","x":18.7,"y":2.9},{"g":"0.38 g","x":16.4,"y":2.92},{"g":"0.38 g","x":16.9,"y":2.93},{"g":"0.38 g","x":15.4,"y":2.9},{"g":"0.38 g","x":15.6,"y":2.89},{"g":"0.38 g","x":15.45,"y":2.86},{"g":"0.38 g","x":16.3,"y":2.83},{"g":"0.38 g","x":16.4,"y":2.8},{"g":"0.38 g","x":16.6,"y":2.87},{"g":"0.38 g","x":16.75,"y":2.85},{"g":"0.38 g","x":17.2,"y":2.8},{"g":"0.38 g","x":17.3,"y":2.82},{"g":"0.38 g","x":17.35,"y":2.76},{"g":"0.38 g","x":16.5,"y":2.76},{"g":"0.38 g","x":16.65,"y":2.75},{"g":"0.38 g","x":16.0,"y":2.73},{"g":"0.38 g","x":15.7,"y":2.74},{"g":"0.38 g","x":15.6,"y":2.71},{"g":"0.38 g","x":15.2,"y":2.76},{"g":"0.38 g","x":14.7,"y":2.7},{"g":"0.38 g","x":16.2,"y":2.67},{"g":"0.38 g","x":16.4,"y":2.66},{"g":"0.38 g","x":15.9,"y":2.69},{"g":"0.38 g","x":15.3,"y":2.63},{"g":"0.38 g","x":16.5,"y":2.63},{"g":"0.38 g","x":16.6,"y":2.59},{"g":"0.38 g","x":16.7,"y":2.57},{"g":"0.38 g","x":16.8,"y":2.54},{"g":"0.38 g","x":15.0,"y":2.57},{"g":"0.38 g","x":16.0,"y":2.54},{"g":"0.38 g","x":16.5,"y":2.48},{"g":"0.38 g","x":14.6,"y":2.48},{"g":"0.38 g","x":19.4,"y":2.64},{"g":"0.38 g","x":19.95,"y":2.49},{"g":"0.38 g","x":18.7,"y":2.46},{"g":"0.38 g","x":18.8,"y":2.43},{"g":"0.38 g","x":19.2,"y":2.3},{"g":"0.38 g","x":19.3,"y":2.29},{"g":"0.38 g","x":19.8,"y":2.33},{"g":"0.38 g","x":20.1,"y":2.31},{"g":"0.38 g","x":19.6,"y":2.2},{"g":"0.38 g","x":18.8,"y":2.2},{"g":"0.38 g","x":19.0,"y":2.2},{"g":"0.38 g","x":16.3,"y":2.09},{"g":"0.38 g","x":15.6,"y":2.01},{"g":"0.38 g","x":14.6,"y":2.26},{"g":"0.38 g","x":14.6,"y":1.82},{"g":"0.38 g","x":15.3,"y":1.75},{"g":"0.38 g","x":16.6,"y":2.36},{"g":"0.38 g","x":16.9,"y":2.24},{"g":"0.38 g","x":17.5,"y":2.2},{"g":"0.38 g","x":17.6,"y":2.14},{"g":"0.38 g","x":17.9,"y":2.16},{"g":"0.38 g","x":18.3,"y":2.11},{"g":"0.38 g","x":18.25,"y":2.07},{"g":"0.38 g","x":18.4,"y":2.09},{"g":"0.38 g","x":18.4,"y":2.0},{"g":"0.38 g","x":18.35,"y":1.92},{"g":"0.38 g","x":18.2,"y":1.85},{"g":"0.38 g","x":18.1,"y":1.85},{"g":"0.38 g","x":18.0,"y":1.89},{"g":"0.38 g","x":17.2,"y":1.89},{"g":"0.38 g","x":17.3,"y":1.94},{"g":"0.38 g","x":17.4,"y":1.96},{"g":"0.38 g","x":17.3,"y":1.81},{"g":"0.38 g","x":17.4,"y":1.82},{"g":"0.38 g","x":17.35,"y":1.86},{"g":"0.38 g","x":16.7,"y":1.95},{"g":"0.38 g","x":19.1,"y":1.97},{"g":"0.38 g","x":19.3,"y":1.95},{"g":"0.38 g","x":19.1,"y":2.32},{"g":"0.38 g","x":10.5,"y":0.045},{"g":"0.38 g","x":6.8,"y":1.85},{"g":"0.38 g","x":7.5,"y":1.95},{"g":"0.38 g","x":7.2,"y":1.45},{"g":"0.38 g","x":6.0,"y":1.3},{"g":"0.38 g","x":5.3,"y":1.15},{"g":"0.38 g","x":2.7,"y":1.35},{"g":"0.38 g","x":8.5,"y":1.6},{"g":"0.38 g","x":9.3,"y":1.55},{"g":"0.38 g","x":10.0,"y":1.6},{"g":"0.38 g","x":3.15,"y":1.15},{"g":"0.38 g","x":3.5,"y":1.32},{"g":"0.38 g","x":3.95,"y":1.38},{"g":"0.38 g","x":4.25,"y":1.45},{"g":"0.38 g","x":4.75,"y":1.5},{"g":"0.38 g","x":5.15,"y":1.58},{"g":"0.38 g","x":5.55,"y":1.62},{"g":"0.38 g","x":6.1,"y":1.7},{"g":"0.38 g","x":6.45,"y":1.62},{"g":"0.38 g","x":6.85,"y":1.75},{"g":"0.38 g","x":7.25,"y":1.82},{"g":"0.38 g","x":7.7,"y":1.85},{"g":"0.38 g","x":8.15,"y":1.9},{"g":"0.38 g","x":8.45,"y":1.82},{"g":"0.38 g","x":9.05,"y":1.95},{"g":"0.38 g","x":9.65,"y":2.0},{"g":"0.38 g","x":10.05,"y":2.08},{"g":"0.38 g","x":10.6,"y":2.05},{"g":"0.38 g","x":9.35,"y":1.88},{"g":"0.38 g","x":8.75,"y":2.1},
{"g":"0.7 g","x":1.6,"y":1.78},{"g":"0.7 g","x":1.9,"y":1.78},{"g":"0.7 g","x":2.0,"y":1.55},{"g":"0.7 g","x":2.3,"y":1.72},{"g":"0.7 g","x":2.6,"y":1.45},{"g":"0.7 g","x":2.8,"y":1.88},{"g":"0.7 g","x":3.0,"y":1.62},{"g":"0.7 g","x":3.2,"y":1.35},{"g":"0.7 g","x":3.3,"y":2.05},{"g":"0.7 g","x":3.5,"y":1.78},{"g":"0.7 g","x":3.6,"y":1.5},{"g":"0.7 g","x":3.7,"y":1.95},{"g":"0.7 g","x":3.9,"y":1.68},{"g":"0.7 g","x":4.0,"y":2.2},{"g":"0.7 g","x":4.1,"y":1.85},{"g":"0.7 g","x":4.2,"y":1.58},{"g":"0.7 g","x":4.3,"y":2.05},{"g":"0.7 g","x":4.4,"y":1.72},{"g":"0.7 g","x":4.5,"y":1.95},{"g":"0.7 g","x":4.6,"y":1.62},{"g":"0.7 g","x":4.7,"y":2.3},{"g":"0.7 g","x":4.8,"y":1.85},{"g":"0.7 g","x":4.06,"y":1.34},{"g":"0.7 g","x":4.6,"y":1.4},{"g":"0.7 g","x":5.3,"y":1.5},{"g":"0.7 g","x":5.9,"y":1.55},{"g":"0.7 g","x":4.3,"y":2.35},{"g":"0.7 g","x":4.85,"y":2.6},{"g":"0.7 g","x":3.4,"y":2.2},{"g":"0.7 g","x":2.5,"y":1.95},{"g":"0.7 g","x":5.13,"y":2.52},{"g":"0.7 g","x":4.5,"y":2.4},{"g":"0.7 g","x":3.8,"y":2.29},{"g":"0.7 g","x":3.65,"y":2.09},{"g":"0.7 g","x":3.15,"y":1.94},{"g":"0.7 g","x":3.0,"y":1.82},{"g":"0.7 g","x":5.5,"y":2.32},{"g":"0.7 g","x":5.0,"y":1.95},{"g":"0.7 g","x":5.1,"y":2.25},{"g":"0.7 g","x":5.2,"y":1.7},{"g":"0.7 g","x":5.3,"y":2.05},{"g":"0.7 g","x":5.4,"y":1.88},{"g":"0.7 g","x":5.5,"y":2.4},{"g":"0.7 g","x":5.6,"y":2.1},{"g":"0.7 g","x":5.7,"y":1.8},{"g":"0.7 g","x":5.8,"y":2.2},{"g":"0.7 g","x":5.9,"y":2.0},{"g":"0.7 g","x":6.0,"y":2.55},{"g":"0.7 g","x":6.1,"y":2.05},{"g":"0.7 g","x":6.2,"y":1.9},{"g":"0.7 g","x":6.3,"y":2.3},{"g":"0.7 g","x":6.4,"y":2.15},{"g":"0.7 g","x":6.5,"y":2.6},{"g":"0.7 g","x":6.6,"y":2.0},{"g":"0.7 g","x":6.7,"y":2.35},{"g":"0.7 g","x":6.8,"y":2.2},{"g":"0.7 g","x":6.9,"y":2.75},{"g":"0.7 g","x":7.0,"y":2.25},{"g":"0.7 g","x":7.1,"y":1.95},{"g":"0.7 g","x":7.2,"y":2.45},{"g":"0.7 g","x":7.3,"y":2.3},{"g":"0.7 g","x":7.4,"y":2.7},{"g":"0.7 g","x":7.5,"y":2.2},{"g":"0.7 g","x":7.6,"y":2.5},{"g":"0.7 g","x":7.7,"y":2.4},{"g":"0.7 g","x":7.8,"y":2.85},{"g":"0.7 g","x":7.9,"y":2.3},{"g":"0.7 g","x":8.0,"y":2.55},{"g":"0.7 g","x":8.1,"y":2.65},{"g":"0.7 g","x":8.2,"y":2.25},{"g":"0.7 g","x":8.3,"y":2.75},{"g":"0.7 g","x":8.4,"y":2.5},{"g":"0.7 g","x":8.5,"y":2.9},{"g":"0.7 g","x":8.6,"y":2.4},{"g":"0.7 g","x":8.7,"y":2.6},{"g":"0.7 g","x":8.8,"y":2.7},{"g":"0.7 g","x":8.9,"y":2.35},{"g":"0.7 g","x":9.0,"y":2.8},{"g":"0.7 g","x":9.1,"y":2.55},{"g":"0.7 g","x":9.2,"y":2.95},{"g":"0.7 g","x":9.3,"y":2.65},{"g":"0.7 g","x":9.4,"y":2.75},{"g":"0.7 g","x":9.5,"y":2.45},{"g":"0.7 g","x":9.6,"y":2.85},{"g":"0.7 g","x":9.7,"y":2.6},{"g":"0.7 g","x":9.8,"y":2.75},{"g":"0.7 g","x":9.9,"y":2.9},{"g":"0.7 g","x":10.0,"y":2.7},{"g":"0.7 g","x":10.1,"y":2.55},{"g":"0.7 g","x":10.2,"y":2.8},{"g":"0.7 g","x":5.05,"y":2.15},{"g":"0.7 g","x":5.45,"y":1.6},{"g":"0.7 g","x":5.75,"y":2.35},{"g":"0.7 g","x":6.15,"y":2.4},{"g":"0.7 g","x":6.45,"y":1.85},{"g":"0.7 g","x":6.85,"y":2.5},{"g":"0.7 g","x":7.15,"y":2.6},{"g":"0.7 g","x":7.45,"y":2.0},{"g":"0.7 g","x":7.85,"y":2.6},{"g":"0.7 g","x":8.25,"y":2.95},{"g":"0.7 g","x":8.45,"y":2.2},{"g":"0.7 g","x":8.85,"y":2.55},{"g":"0.7 g","x":9.25,"y":2.4},{"g":"0.7 g","x":9.55,"y":2.95},{"g":"0.7 g","x":9.85,"y":2.55},{"g":"0.7 g","x":6.05,"y":2.75},{"g":"0.7 g","x":7.05,"y":3.0},{"g":"0.7 g","x":8.05,"y":3.05},{"g":"0.7 g","x":5.25,"y":2.5},{"g":"0.7 g","x":6.6,"y":2.58},{"g":"0.7 g","x":7.1,"y":2.75},{"g":"0.7 g","x":7.3,"y":2.72},{"g":"0.7 g","x":7.5,"y":2.8},{"g":"0.7 g","x":7.7,"y":2.92},{"g":"0.7 g","x":8.2,"y":3.0},{"g":"0.7 g","x":8.75,"y":3.08},{"g":"0.7 g","x":7.95,"y":2.85},{"g":"0.7 g","x":9.8,"y":2.29},{"g":"0.7 g","x":9.6,"y":2.2},{"g":"0.7 g","x":9.2,"y":2.2},{"g":"0.7 g","x":10.4,"y":2.32},{"g":"0.7 g","x":10.7,"y":2.45},{"g":"0.7 g","x":10.3,"y":2.4},{"g":"0.7 g","x":10.5,"y":2.65},{"g":"0.7 g","x":10.6,"y":3.0},{"g":"0.7 g","x":10.8,"y":2.5},{"g":"0.7 g","x":11.0,"y":2.3},{"g":"0.7 g","x":11.1,"y":2.75},{"g":"0.7 g","x":11.3,"y":3.1},{"g":"0.7 g","x":11.5,"y":2.46},{"g":"0.7 g","x":11.4,"y":2.58},{"g":"0.7 g","x":11.2,"y":2.52},{"g":"0.7 g","x":11.6,"y":2.13},{"g":"0.7 g","x":11.7,"y":2.71},{"g":"0.7 g","x":11.8,"y":2.9},{"g":"0.7 g","x":12.0,"y":2.6},{"g":"0.7 g","x":12.1,"y":2.54},{"g":"0.7 g","x":12.1,"y":2.05},{"g":"0.7 g","x":12.2,"y":2.14},{"g":"0.7 g","x":12.4,"y":2.17},{"g":"0.7 g","x":12.1,"y":3.3},{"g":"0.7 g","x":12.4,"y":3.8},{"g":"0.7 g","x":12.5,"y":2.7},{"g":"0.7 g","x":12.6,"y":2.6},{"g":"0.7 g","x":12.6,"y":2.45},{"g":"0.7 g","x":12.6,"y":3.45},{"g":"0.7 g","x":12.9,"y":3.05},{"g":"0.7 g","x":13.0,"y":3.87},{"g":"0.7 g","x":13.2,"y":2.55},{"g":"0.7 g","x":13.2,"y":3.35},{"g":"0.7 g","x":13.2,"y":2.82},{"g":"0.7 g","x":13.4,"y":2.95},{"g":"0.7 g","x":13.6,"y":2.66},{"g":"0.7 g","x":13.7,"y":2.27},{"g":"0.7 g","x":13.6,"y":3.15},{"g":"0.7 g","x":13.7,"y":2.9},{"g":"0.7 g","x":13.9,"y":2.35},{"g":"0.7 g","x":13.8,"y":3.4},{"g":"0.7 g","x":13.85,"y":2.88},{"g":"0.7 g","x":14.0,"y":3.0},{"g":"0.7 g","x":14.0,"y":3.6},{"g":"0.7 g","x":14.1,"y":3.2},{"g":"0.7 g","x":14.2,"y":2.33},{"g":"0.7 g","x":14.3,"y":2.61},{"g":"0.7 g","x":14.3,"y":3.45},{"g":"0.7 g","x":14.2,"y":2.95},{"g":"0.7 g","x":14.4,"y":3.85},{"g":"0.7 g","x":14.5,"y":3.05},{"g":"0.7 g","x":14.6,"y":3.55},{"g":"0.7 g","x":14.6,"y":3.87},{"g":"0.7 g","x":14.7,"y":3.3},{"g":"0.7 g","x":14.8,"y":2.9},{"g":"0.7 g","x":14.9,"y":3.87},{"g":"0.7 g","x":14.9,"y":3.49},{"g":"0.7 g","x":15.0,"y":3.32},{"g":"0.7 g","x":15.1,"y":3.54},{"g":"0.7 g","x":15.1,"y":3.06},{"g":"0.7 g","x":15.2,"y":3.58},{"g":"0.7 g","x":15.2,"y":4.28},{"g":"0.7 g","x":15.3,"y":3.91},{"g":"0.7 g","x":15.3,"y":3.82},{"g":"0.7 g","x":15.3,"y":3.47},{"g":"0.7 g","x":15.4,"y":3.54},{"g":"0.7 g","x":15.5,"y":3.95},{"g":"0.7 g","x":15.6,"y":4.3},{"g":"0.7 g","x":15.7,"y":4.28},{"g":"0.7 g","x":15.7,"y":3.59},{"g":"0.7 g","x":15.7,"y":3.17},{"g":"0.7 g","x":15.8,"y":4.1},{"g":"0.7 g","x":15.8,"y":3.41},{"g":"0.7 g","x":15.8,"y":3.04},{"g":"0.7 g","x":15.9,"y":3.74},{"g":"0.7 g","x":15.9,"y":3.62},{"g":"0.7 g","x":16.1,"y":4.0},{"g":"0.7 g","x":16.1,"y":3.61},{"g":"0.7 g","x":16.3,"y":3.46},{"g":"0.7 g","x":16.4,"y":4.32},{"g":"0.7 g","x":16.4,"y":3.69},{"g":"0.7 g","x":16.4,"y":3.26},{"g":"0.7 g","x":16.8,"y":4.42},{"g":"0.7 g","x":16.8,"y":3.56},{"g":"0.7 g","x":16.9,"y":3.23},{"g":"0.7 g","x":17.1,"y":3.18},{"g":"0.7 g","x":17.2,"y":3.6},{"g":"0.7 g","x":17.3,"y":4.3},{"g":"0.7 g","x":17.3,"y":3.32},{"g":"0.7 g","x":17.4,"y":4.49},{"g":"0.7 g","x":17.5,"y":3.82},{"g":"0.7 g","x":17.5,"y":3.37},{"g":"0.7 g","x":17.8,"y":3.25},{"g":"0.7 g","x":17.9,"y":3.43},{"g":"0.7 g","x":18.0,"y":3.38},{"g":"0.7 g","x":18.1,"y":4.45},{"g":"0.7 g","x":18.1,"y":3.46},{"g":"0.7 g","x":18.3,"y":3.32},{"g":"0.7 g","x":18.4,"y":4.64},{"g":"0.7 g","x":18.45,"y":4.6},{"g":"0.7 g","x":18.5,"y":4.4},{"g":"0.7 g","x":18.7,"y":3.46},{"g":"0.7 g","x":19.3,"y":3.67},{"g":"0.7 g","x":19.4,"y":3.75},{"g":"0.7 g","x":19.5,"y":3.63},{"g":"0.7 g","x":19.5,"y":3.53},{"g":"0.7 g","x":19.6,"y":3.79},{"g":"0.7 g","x":19.8,"y":3.71},{"g":"0.7 g","x":19.8,"y":3.6},{"g":"0.7 g","x":20.1,"y":3.8},{"g":"0.7 g","x":20.1,"y":3.48},{"g":"0.7 g","x":14.6,"y":2.6},{"g":"0.7 g","x":15.0,"y":2.45},{"g":"0.7 g","x":15.4,"y":2.75},{"g":"0.7 g","x":14.0,"y":2.38},{"g":"0.7 g","x":15.8,"y":2.5},{"g":"0.7 g","x":6.3,"y":2.05},{"g":"0.7 g","x":6.75,"y":2.1},{"g":"0.7 g","x":7.25,"y":2.15},{"g":"0.7 g","x":7.65,"y":2.25},{"g":"0.7 g","x":8.15,"y":2.4},{"g":"0.7 g","x":8.65,"y":2.45},{"g":"0.7 g","x":9.15,"y":2.62},{"g":"0.7 g","x":9.65,"y":2.7},{"g":"0.7 g","x":5.65,"y":1.95},{"g":"0.7 g","x":4.95,"y":1.8},{"g":"0.7 g","x":5.15,"y":1.98},{"g":"0.7 g","x":5.35,"y":2.2},{"g":"0.7 g","x":5.55,"y":2.02},{"g":"0.7 g","x":5.85,"y":2.08},{"g":"0.7 g","x":6.25,"y":2.2},{"g":"0.7 g","x":6.55,"y":2.25},{"g":"0.7 g","x":6.95,"y":2.4},{"g":"0.7 g","x":7.35,"y":2.42},{"g":"0.7 g","x":7.55,"y":2.6},{"g":"0.7 g","x":7.75,"y":2.5},{"g":"0.7 g","x":8.35,"y":2.6},{"g":"0.7 g","x":8.55,"y":2.68},{"g":"0.7 g","x":8.95,"y":2.62},{"g":"0.7 g","x":9.05,"y":2.9},{"g":"0.7 g","x":9.35,"y":2.85},{"g":"0.7 g","x":9.45,"y":2.6},{"g":"0.7 g","x":9.75,"y":2.82},{"g":"0.7 g","x":9.95,"y":2.78},{"g":"0.7 g","x":10.05,"y":2.85},{"g":"0.7 g","x":6.35,"y":2.45},{"g":"0.7 g","x":6.65,"y":2.45},{"g":"0.7 g","x":7.95,"y":2.7},{"g":"0.7 g","x":8.7,"y":2.85},{"g":"0.7 g","x":5.95,"y":2.28},{"g":"0.7 g","x":4.4,"y":2.0},{"g":"0.7 g","x":4.9,"y":2.1},{"g":"0.7 g","x":3.9,"y":1.9},{"g":"0.7 g","x":3.6,"y":1.85},{"g":"0.7 g","x":4.7,"y":1.75}
]},
"layer":[
{"data":{"name":"pts"},
 "mark":{"type":"circle","size":14,"opacity":1},
 "encoding":{
  "x":{"field":"x","type":"quantitative","scale":{"domain":[1.04,22.18],"nice":false,"zero":false},
       "axis":{"values":[5,10,15,20],"title":"Jump Height [cm]","grid":false,"domain":false,"tickColor":"black","tickSize":10,"tickWidth":1.5,"labelFontSize":16,"labelColor":"black","labelFont":"Liberation Sans","labelPadding":13,"titleFontSize":16,"titleFontWeight":"normal","titleColor":"black","titleFont":"Liberation Sans","titlePadding":20}},
  "y":{"field":"y","type":"quantitative","scale":{"domain":[0,5],"nice":false,"zero":false},
       "axis":{"values":[0,1,2,3,4,5],"format":"d","title":"GRF [Multiples of gEarth]","grid":false,"domain":false,"tickColor":"black","tickSize":10,"tickWidth":1.5,"labelFontSize":16,"labelColor":"black","labelFont":"Liberation Sans","labelAngle":270,"labelAlign":"center","labelBaseline":"bottom","labelPadding":9,"titleFontSize":16,"titleFontWeight":"normal","titleColor":"black","titleFont":"Liberation Sans","titlePadding":18}},
  "color":{"field":"g","type":"nominal","scale":{"domain":["0.16 g","0.27 g","0.38 g","0.7 g"],"range":["#2c4a9a","#8f1010","#2e8b57","#d4a020"]},
    "legend":{"orient":"none","legendX":44,"legendY":56,"title":null,"symbolType":"stroke","symbolStrokeWidth":4,"symbolSize":1089,"symbolOffset":3,"labelFontSize":16,"labelFont":"Liberation Sans","labelColor":"black","labelOffset":14,"padding":10,"strokeColor":"black","fillColor":"white","clipHeight":20,"rowPadding":0}}}},
{"data":{"name":"lines"},
 "mark":{"type":"line","strokeWidth":2,"clip":true},
 "encoding":{
  "x":{"field":"x","type":"quantitative"},
  "y":{"field":"y","type":"quantitative"},
  "color":{"field":"g","type":"nominal",
    "legend":{"orient":"none","legendX":44,"legendY":56,"title":null,"symbolType":"stroke","symbolStrokeWidth":4,"symbolSize":1089,"symbolOffset":3,"labelFontSize":16,"labelFont":"Liberation Sans","labelColor":"black","labelOffset":14,"padding":10,"strokeColor":"black","fillColor":"white","clipHeight":20,"rowPadding":0}}}}
]
}
